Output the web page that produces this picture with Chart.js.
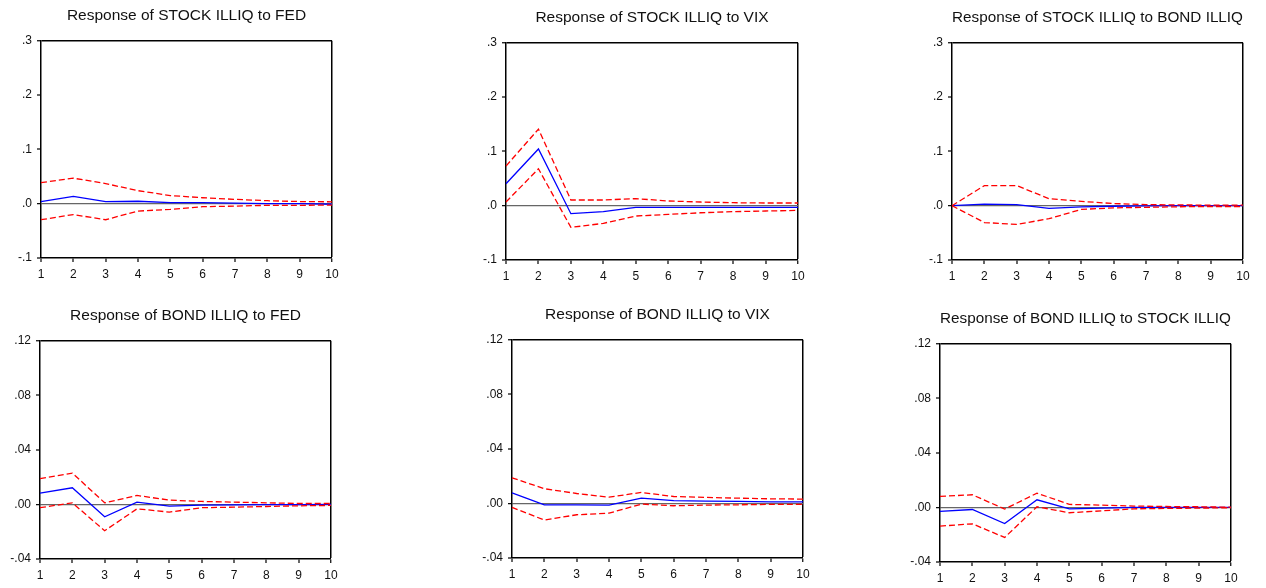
<!DOCTYPE html>
<html>
<head>
<meta charset="utf-8">
<script src="https://cdn.jsdelivr.net/npm/chart.js@4.4.1/dist/chart.umd.min.js"></script>
<style>
  html, body { margin: 0; padding: 0; background: #fff; width: 1266px; height: 588px; overflow: hidden; }
  canvas { position: absolute; }
</style>
</head>
<body>
<script>
// ---------- data ----------
const horizons = ['1','2','3','4','5','6','7','8','9','10'];

const topTicks    = [-0.1, 0, 0.1, 0.2, 0.3];
const bottomTicks = [-0.04, 0, 0.04, 0.08, 0.12];

const titles = [
  'Response of STOCK ILLIQ to FED',
  'Response of STOCK ILLIQ to VIX',
  'Response of STOCK ILLIQ to BOND ILLIQ',
  'Response of BOND ILLIQ to FED',
  'Response of BOND ILLIQ to VIX',
  'Response of BOND ILLIQ to STOCK ILLIQ'
];

const stockFedResp  = [0.004, 0.0135, 0.004, 0.0045, 0.002, 0.002, 0.001, 0.0, 0.0, -0.001];
const stockFedUpper = [0.0387, 0.047, 0.037, 0.024, 0.015, 0.011, 0.008, 0.0055, 0.004, 0.0035];
const stockFedLower = [-0.0295, -0.020, -0.0295, -0.0135, -0.0105, -0.0055, -0.0045, -0.003, -0.003, -0.0025];

const stockVixResp  = [0.0405, 0.1045, -0.0147, -0.011, -0.003, -0.003, -0.003, -0.003, -0.003, -0.003];
const stockVixUpper = [0.073, 0.141, 0.0105, 0.0105, 0.013, 0.0087, 0.0068, 0.0055, 0.005, 0.005];
const stockVixLower = [0.0068, 0.068, -0.040, -0.0325, -0.019, -0.016, -0.013, -0.011, -0.0098, -0.0086];

const stockBondResp  = [0, 0.003, 0.002, -0.005, -0.002, -0.001, -0.0005, 0, 0, 0];
const stockBondUpper = [0, 0.037, 0.037, 0.013, 0.008, 0.004, 0.002, 0.0015, 0.001, 0.001];
const stockBondLower = [0, -0.031, -0.0344, -0.024, -0.0068, -0.004, -0.003, -0.002, -0.0015, -0.0015];

const bondFedResp  = [0.0083, 0.0122, -0.009, 0.0017, -0.0012, -0.0005, -0.0003, -0.0002, -0.0001, 0];
const bondFedUpper = [0.019, 0.023, 0.0012, 0.0066, 0.0032, 0.0022, 0.0017, 0.0012, 0.0007, 0.0007];
const bondFedLower = [-0.0024, 0.0012, -0.0193, -0.0032, -0.0056, -0.0024, -0.002, -0.0015, -0.001, -0.0007];

const bondVixResp  = [0.0078, -0.001, -0.001, -0.0012, 0.0039, 0.002, 0.0017, 0.0015, 0.0012, 0.0012];
const bondVixUpper = [0.0188, 0.0108, 0.0073, 0.0046, 0.0081, 0.0051, 0.0044, 0.0039, 0.0034, 0.0032];
const bondVixLower = [-0.0029, -0.0122, -0.0083, -0.0071, -0.0005, -0.0017, -0.0012, -0.001, -0.0007, -0.0007];

const bondStockResp  = [-0.0029, -0.0015, -0.0118, 0.0056, -0.001, -0.0005, 0, 0, 0, 0];
const bondStockUpper = [0.0081, 0.0093, -0.0012, 0.0105, 0.0022, 0.0017, 0.001, 0.0007, 0.0005, 0.0002];
const bondStockLower = [-0.0137, -0.012, -0.022, 0.0005, -0.0039, -0.0025, -0.001, -0.0007, -0.0005, -0.0002];

// ---------- layout (plot area rectangles: left, right, top, bottom) ----------
const plotRects = [
  [41, 332, 41, 258.3],
  [505.7, 797.3, 42.3, 259.3],
  [952, 1243, 42.3, 259.3],
  [40, 331, 341, 559],
  [511.7, 802.7, 339.3, 557.3],
  [939.7, 1231, 344, 561.7]
];

const panelSeries = [
  [stockFedResp, stockFedUpper, stockFedLower, topTicks, 1],
  [stockVixResp, stockVixUpper, stockVixLower, topTicks, 1],
  [stockBondResp, stockBondUpper, stockBondLower, topTicks, 1],
  [bondFedResp, bondFedUpper, bondFedLower, bottomTicks, 2],
  [bondVixResp, bondVixUpper, bondVixLower, bottomTicks, 2],
  [bondStockResp, bondStockUpper, bondStockLower, bottomTicks, 2]
];

const FONT = 'Arial, "Liberation Sans", Helvetica, sans-serif';
const YAXIS_W = 40, RIGHT_PAD = 40, TITLE_H = 39.8, XAXIS_H = 25;

function fmtTick(v, dec) {
  if (Math.abs(v) < 1e-9) v = 0;
  return v.toFixed(dec).replace(/^(-?)0\./, '$1.');
}

panelSeries.forEach((p, i) => {
  const [resp, upper, lower, ticks, dec] = p;
  const [L, R, T, B] = plotRects[i];
  const cv = document.createElement('canvas');
  const w = Math.round(R - L + YAXIS_W + RIGHT_PAD);
  const h = Math.round(TITLE_H + (B - T) + XAXIS_H);
  cv.width = w; cv.height = h;
  cv.style.width = w + 'px'; cv.style.height = h + 'px';
  cv.style.left = (L - YAXIS_W) + 'px';
  cv.style.top = (T - TITLE_H) + 'px';
  document.body.appendChild(cv);

  const yMin = ticks[0], yMax = ticks[ticks.length - 1];

  new Chart(cv, {
    type: 'line',
    data: {
      labels: horizons,
      datasets: [
        { data: upper, borderColor: '#ff0000', borderWidth: 1.3, borderDash: [6, 3], pointRadius: 0, tension: 0, fill: false },
        { data: lower, borderColor: '#ff0000', borderWidth: 1.3, borderDash: [6, 3], pointRadius: 0, tension: 0, fill: false },
        { data: resp,  borderColor: '#0000ff', borderWidth: 1.3, pointRadius: 0, tension: 0, fill: false }
      ]
    },
    options: {
      responsive: false,
      animation: false,
      events: [],
      layout: { padding: { left: 0, right: RIGHT_PAD, top: 0, bottom: 0 } },
      plugins: {
        legend: { display: false },
        tooltip: { enabled: false },
        title: {
          display: true,
          fullSize: false,
          text: titles[i],
          color: '#111',
          font: { family: FONT, size: 15.5, weight: 'normal', lineHeight: 1.2 },
          padding: { top: 5.5, bottom: 15.7 }
        }
      },
      scales: {
        x: {
          type: 'category',
          offset: false,
          afterFit: s => { s.height = XAXIS_H; },
          border: { display: true, color: '#000', width: 1.5 },
          grid: {
            offset: false,
            drawOnChartArea: true,
            drawTicks: true,
            tickLength: 4,
            tickColor: '#000',
            tickWidth: 1.2,
            color: c => (c.index === horizons.length - 1 ? '#000' : 'rgba(0,0,0,0)'),
            lineWidth: c => (c.index === horizons.length - 1 ? 1.5 : 0)
          },
          ticks: {
            autoSkip: false,
            maxRotation: 0,
            padding: 5,
            color: '#111',
            font: { family: FONT, size: 12 }
          }
        },
        y: {
          min: yMin,
          max: yMax,
          afterFit: s => { s.width = YAXIS_W; },
          afterBuildTicks: s => { s.ticks = ticks.map(v => ({ value: v })); },
          border: { display: true, color: '#000', width: 1.5 },
          grid: {
            drawOnChartArea: true,
            drawTicks: true,
            tickLength: 4,
            tickColor: '#000',
            tickWidth: 1.2,
            color: c => {
              const v = c.tick ? c.tick.value : null;
              if (v === null) return 'rgba(0,0,0,0)';
              if (Math.abs(v - yMax) < 1e-9) return '#000';
              if (Math.abs(v) < 1e-9) return '#666';
              return 'rgba(0,0,0,0)';
            },
            lineWidth: c => {
              const v = c.tick ? c.tick.value : null;
              if (v === null) return 0;
              if (Math.abs(v - yMax) < 1e-9) return 1.5;
              if (Math.abs(v) < 1e-9) return 1.3;
              return 0;
            }
          },
          ticks: {
            padding: 5,
            color: '#111',
            font: { family: FONT, size: 12 },
            callback: v => fmtTick(v, dec)
          }
        }
      }
    }
  });
});
</script>
</body>
</html>
